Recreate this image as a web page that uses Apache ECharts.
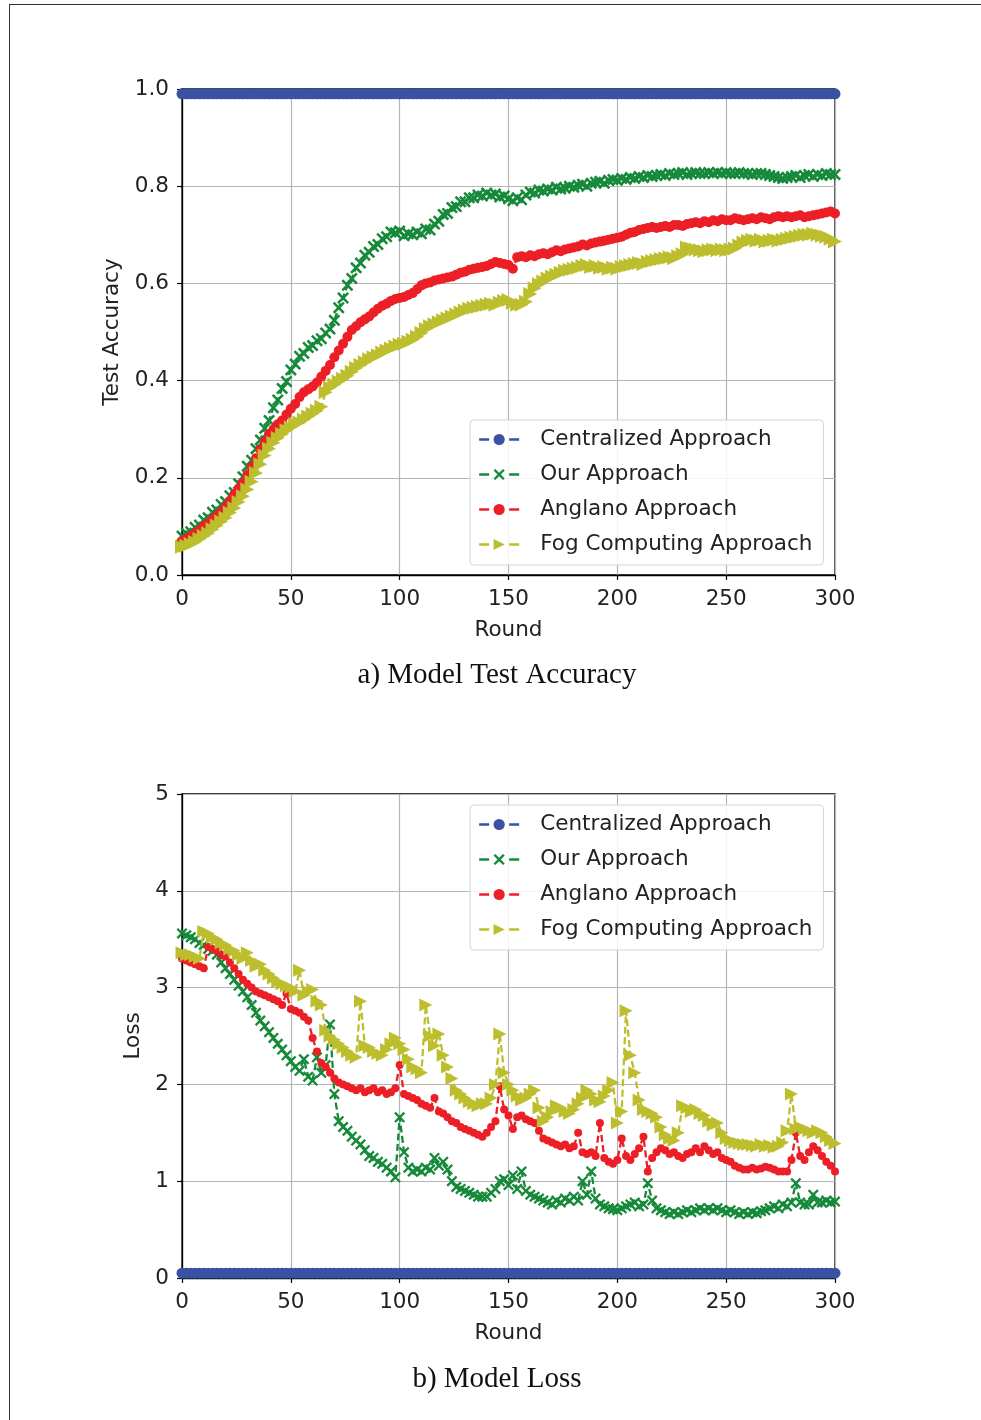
<!DOCTYPE html>
<html><head><meta charset="utf-8">
<script src="https://cdn.jsdelivr.net/npm/echarts@6/dist/echarts.min.js"></script>
<style>
html,body{margin:0;padding:0;background:#fff;}
#c{position:absolute;left:0;top:0;width:981px;height:1420px;}
#frame{position:absolute;left:9px;top:4px;right:0;bottom:0;border-top:1px solid #333;border-left:1px solid #333;pointer-events:none;}
</style></head>
<body>
<div id="c"></div>
<div id="frame"></div>
<script>
// ---------- DATA ----------
const rounds = [
0,2,4,6,8,10,12,14,16,18,
20,22,24,26,28,30,32,34,36,38,
40,42,44,46,48,50,52,54,56,58,
60,62,64,66,68,70,72,74,76,78,
80,82,84,86,88,90,92,94,96,98,
100,102,104,106,108,110,112,114,116,118,
120,122,124,126,128,130,132,134,136,138,
140,142,144,146,148,150,152,154,156,158,
160,162,164,166,168,170,172,174,176,178,
180,182,184,186,188,190,192,194,196,198,
200,202,204,206,208,210,212,214,216,218,
220,222,224,226,228,230,232,234,236,238,
240,242,244,246,248,250,252,254,256,258,
260,262,264,266,268,270,272,274,276,278,
280,282,284,286,288,290,292,294,296,298,
300];

const seriesNames = ['Centralized Approach','Our Approach','Anglano Approach','Fog Computing Approach'];

// Test accuracy
const accCentral = [
0.990,0.990,0.990,0.990,0.990,0.990,0.990,0.990,0.990,0.990,
0.990,0.990,0.990,0.990,0.990,0.990,0.990,0.990,0.990,0.990,
0.990,0.990,0.990,0.990,0.990,0.990,0.990,0.990,0.990,0.990,
0.990,0.990,0.990,0.990,0.990,0.990,0.990,0.990,0.990,0.990,
0.990,0.990,0.990,0.990,0.990,0.990,0.990,0.990,0.990,0.990,
0.990,0.990,0.990,0.990,0.990,0.990,0.990,0.990,0.990,0.990,
0.990,0.990,0.990,0.990,0.990,0.990,0.990,0.990,0.990,0.990,
0.990,0.990,0.990,0.990,0.990,0.990,0.990,0.990,0.990,0.990,
0.990,0.990,0.990,0.990,0.990,0.990,0.990,0.990,0.990,0.990,
0.990,0.990,0.990,0.990,0.990,0.990,0.990,0.990,0.990,0.990,
0.990,0.990,0.990,0.990,0.990,0.990,0.990,0.990,0.990,0.990,
0.990,0.990,0.990,0.990,0.990,0.990,0.990,0.990,0.990,0.990,
0.990,0.990,0.990,0.990,0.990,0.990,0.990,0.990,0.990,0.990,
0.990,0.990,0.990,0.990,0.990,0.990,0.990,0.990,0.990,0.990,
0.990,0.990,0.990,0.990,0.990,0.990,0.990,0.990,0.990,0.990,
0.990];
const accOur = [
0.080,0.086,0.089,0.098,0.103,0.113,0.118,0.129,0.134,0.145,
0.151,0.163,0.170,0.188,0.202,0.224,0.236,0.260,0.278,0.302,
0.318,0.344,0.360,0.384,0.398,0.422,0.434,0.450,0.456,0.468,
0.472,0.482,0.486,0.498,0.506,0.524,0.550,0.570,0.596,0.610,
0.632,0.642,0.658,0.664,0.676,0.680,0.692,0.696,0.706,0.704,
0.708,0.698,0.702,0.700,0.706,0.702,0.712,0.710,0.722,0.728,
0.742,0.744,0.756,0.758,0.768,0.768,0.776,0.776,0.782,0.780,
0.786,0.782,0.784,0.778,0.780,0.774,0.770,0.776,0.772,0.782,
0.788,0.786,0.792,0.790,0.794,0.792,0.798,0.794,0.796,0.800,
0.798,0.802,0.804,0.800,0.806,0.808,0.810,0.806,0.812,0.814,
0.812,0.816,0.814,0.818,0.816,0.820,0.818,0.822,0.820,0.822,
0.824,0.822,0.826,0.824,0.826,0.828,0.824,0.826,0.828,0.826,
0.826,0.828,0.826,0.828,0.826,0.828,0.826,0.826,0.828,0.826,
0.826,0.824,0.826,0.826,0.824,0.822,0.820,0.818,0.816,0.818,
0.820,0.822,0.818,0.822,0.824,0.820,0.824,0.822,0.826,0.824,
0.824];
const accAnglano = [
0.070,0.074,0.080,0.086,0.092,0.100,0.106,0.114,0.122,0.130,
0.140,0.152,0.166,0.178,0.190,0.206,0.222,0.240,0.258,0.274,
0.290,0.300,0.310,0.318,0.330,0.342,0.352,0.366,0.376,0.382,
0.388,0.396,0.408,0.420,0.432,0.448,0.462,0.476,0.490,0.504,
0.512,0.520,0.526,0.532,0.540,0.548,0.554,0.558,0.564,0.568,
0.570,0.572,0.576,0.580,0.588,0.596,0.600,0.602,0.606,0.608,
0.610,0.612,0.614,0.618,0.622,0.624,0.628,0.630,0.632,0.634,
0.636,0.640,0.644,0.642,0.640,0.638,0.630,0.654,0.656,0.654,
0.658,0.656,0.660,0.662,0.660,0.664,0.668,0.666,0.670,0.672,
0.674,0.676,0.680,0.678,0.682,0.684,0.686,0.688,0.690,0.692,
0.694,0.696,0.700,0.704,0.706,0.710,0.712,0.714,0.716,0.714,
0.716,0.718,0.716,0.720,0.720,0.718,0.722,0.724,0.726,0.724,
0.728,0.726,0.730,0.728,0.732,0.730,0.730,0.734,0.732,0.730,
0.732,0.734,0.732,0.736,0.734,0.732,0.736,0.738,0.736,0.738,
0.736,0.738,0.740,0.736,0.738,0.740,0.742,0.744,0.746,0.748,
0.744];
const accFog = [
0.058,0.060,0.064,0.068,0.074,0.080,0.086,0.094,0.102,0.110,
0.118,0.128,0.138,0.150,0.162,0.176,0.192,0.210,0.228,0.246,
0.260,0.272,0.282,0.290,0.298,0.304,0.310,0.314,0.320,0.326,
0.332,0.338,0.346,0.376,0.386,0.392,0.398,0.404,0.410,0.418,
0.426,0.432,0.438,0.444,0.448,0.452,0.458,0.462,0.466,0.470,
0.474,0.476,0.480,0.484,0.490,0.498,0.506,0.512,0.516,0.520,
0.524,0.528,0.532,0.536,0.540,0.544,0.548,0.550,0.552,0.554,
0.556,0.558,0.556,0.560,0.564,0.566,0.560,0.556,0.556,0.562,
0.578,0.590,0.598,0.604,0.610,0.614,0.618,0.622,0.626,0.628,
0.630,0.632,0.636,0.638,0.634,0.636,0.632,0.634,0.630,0.632,
0.630,0.634,0.636,0.638,0.640,0.642,0.640,0.644,0.646,0.648,
0.650,0.652,0.654,0.652,0.656,0.660,0.674,0.672,0.670,0.668,
0.666,0.668,0.670,0.668,0.670,0.668,0.670,0.672,0.678,0.684,
0.688,0.690,0.688,0.690,0.686,0.688,0.690,0.688,0.690,0.692,
0.694,0.696,0.698,0.700,0.700,0.702,0.700,0.698,0.696,0.692,
0.686];

// Loss
const lossCentral = [
0.05,0.05,0.05,0.05,0.05,0.05,0.05,0.05,0.05,0.05,
0.05,0.05,0.05,0.05,0.05,0.05,0.05,0.05,0.05,0.05,
0.05,0.05,0.05,0.05,0.05,0.05,0.05,0.05,0.05,0.05,
0.05,0.05,0.05,0.05,0.05,0.05,0.05,0.05,0.05,0.05,
0.05,0.05,0.05,0.05,0.05,0.05,0.05,0.05,0.05,0.05,
0.05,0.05,0.05,0.05,0.05,0.05,0.05,0.05,0.05,0.05,
0.05,0.05,0.05,0.05,0.05,0.05,0.05,0.05,0.05,0.05,
0.05,0.05,0.05,0.05,0.05,0.05,0.05,0.05,0.05,0.05,
0.05,0.05,0.05,0.05,0.05,0.05,0.05,0.05,0.05,0.05,
0.05,0.05,0.05,0.05,0.05,0.05,0.05,0.05,0.05,0.05,
0.05,0.05,0.05,0.05,0.05,0.05,0.05,0.05,0.05,0.05,
0.05,0.05,0.05,0.05,0.05,0.05,0.05,0.05,0.05,0.05,
0.05,0.05,0.05,0.05,0.05,0.05,0.05,0.05,0.05,0.05,
0.05,0.05,0.05,0.05,0.05,0.05,0.05,0.05,0.05,0.05,
0.05,0.05,0.05,0.05,0.05,0.05,0.05,0.05,0.05,0.05,
0.05];
const lossOur = [
3.56,3.54,3.52,3.50,3.46,3.44,3.40,3.38,3.34,3.26,
3.20,3.14,3.08,3.02,2.96,2.90,2.82,2.74,2.66,2.60,
2.54,2.48,2.42,2.36,2.30,2.24,2.18,2.14,2.26,2.08,
2.04,2.28,2.12,2.20,2.62,1.90,1.62,1.56,1.52,1.46,
1.42,1.38,1.32,1.26,1.24,1.20,1.18,1.14,1.10,1.04,
1.66,1.30,1.14,1.10,1.12,1.10,1.14,1.12,1.24,1.16,
1.20,1.12,1.00,0.94,0.92,0.90,0.88,0.86,0.84,0.84,
0.84,0.88,0.92,1.00,1.02,0.96,1.06,0.92,1.10,0.90,
0.86,0.84,0.82,0.80,0.78,0.76,0.80,0.78,0.82,0.80,
0.84,0.80,1.00,0.86,1.10,0.82,0.76,0.74,0.72,0.71,
0.70,0.72,0.74,0.76,0.78,0.74,0.76,0.98,0.80,0.72,
0.70,0.68,0.66,0.68,0.66,0.68,0.70,0.68,0.70,0.72,
0.70,0.72,0.70,0.72,0.70,0.68,0.70,0.68,0.66,0.68,
0.66,0.68,0.67,0.69,0.70,0.72,0.74,0.72,0.76,0.74,
0.78,0.98,0.78,0.76,0.76,0.86,0.78,0.78,0.80,0.78,
0.79];
const lossAnglano = [
3.30,3.28,3.26,3.24,3.22,3.20,3.42,3.40,3.38,3.34,
3.32,3.26,3.20,3.14,3.08,3.04,3.00,2.96,2.94,2.92,
2.90,2.88,2.86,2.82,2.94,2.78,2.76,2.74,2.70,2.66,
2.48,2.34,2.22,2.18,2.12,2.06,2.02,2.00,1.98,1.96,
1.94,1.96,1.92,1.94,1.96,1.92,1.94,1.90,1.92,1.96,
2.20,1.90,1.88,1.86,1.84,1.80,1.78,1.76,1.86,1.72,
1.70,1.66,1.62,1.60,1.56,1.54,1.52,1.50,1.48,1.46,
1.50,1.56,1.62,1.98,1.74,1.68,1.54,1.66,1.68,1.64,
1.62,1.60,1.52,1.44,1.42,1.40,1.38,1.36,1.38,1.34,
1.36,1.50,1.30,1.28,1.30,1.26,1.60,1.24,1.20,1.18,
1.22,1.44,1.26,1.22,1.28,1.34,1.46,1.10,1.24,1.30,
1.34,1.32,1.28,1.30,1.26,1.24,1.28,1.30,1.34,1.30,
1.36,1.32,1.28,1.30,1.24,1.22,1.20,1.16,1.14,1.12,
1.12,1.14,1.12,1.13,1.15,1.14,1.12,1.10,1.10,1.10,
1.22,1.50,1.26,1.22,1.30,1.36,1.32,1.26,1.20,1.16,
1.10];
const lossFog = [
3.36,3.34,3.34,3.32,3.30,3.58,3.56,3.52,3.50,3.46,
3.44,3.40,3.38,3.34,3.30,3.36,3.28,3.22,3.24,3.18,
3.14,3.10,3.06,3.04,3.02,3.00,2.96,3.18,2.92,2.96,
2.98,2.86,2.82,2.56,2.50,2.46,2.42,2.38,2.34,2.30,
2.28,2.86,2.40,2.38,2.34,2.32,2.30,2.36,2.42,2.48,
2.42,2.36,2.26,2.18,2.16,2.12,2.82,2.50,2.40,2.52,
2.30,2.18,2.06,1.94,1.90,1.86,1.82,1.80,1.78,1.80,
1.80,1.86,2.00,2.52,2.12,2.00,1.94,1.88,1.84,1.86,
1.90,1.94,1.76,1.62,1.66,1.72,1.78,1.76,1.72,1.70,
1.74,1.80,1.86,1.94,1.90,1.84,1.82,1.88,1.94,2.02,
1.60,1.72,2.76,2.30,2.12,1.84,1.74,1.72,1.70,1.66,
1.56,1.48,1.44,1.42,1.50,1.78,1.76,1.72,1.74,1.70,
1.68,1.62,1.58,1.60,1.50,1.44,1.42,1.40,1.39,1.38,
1.38,1.37,1.36,1.38,1.36,1.37,1.35,1.36,1.40,1.52,
1.90,1.54,1.56,1.54,1.52,1.50,1.52,1.50,1.46,1.42,
1.39];

const xTicks = [0,50,100,150,200,250,300];
const accTicks = [0.0,0.2,0.4,0.6,0.8,1.0];
const lossTicks = [0,1,2,3,4,5];

// ---------- STYLE ----------
const FONT = 'DejaVu Sans';
const FS = 21.5;
const TXT = '#222';
const colors = ['#3a52a4','#168a3a','#ec1f26','#bdbe2d'];
const X_PATH = 'path://M3,0 L10,7 L17,0 L20,3 L13,10 L20,17 L17,20 L10,13 L3,20 L0,17 L7,10 L0,3 Z';
const TRI_PATH = 'path://M0,0 L20,10 L0,20 Z';
const symbols = ['circle', X_PATH, 'circle', TRI_PATH];
const sizesAcc = [11, 12, 10, 14];
const sizesLoss = [11, 11, 8, 13];

function pairs(ys){ return rounds.map((r,i)=>[r, ys[i]]); }

function mkX(gi){
  return {type:'value', gridIndex:gi, min:xTicks[0], max:xTicks[xTicks.length-1], interval:xTicks[1]-xTicks[0],
    name:'Round', nameLocation:'middle', nameGap:44,
    nameTextStyle:{fontFamily:FONT,fontSize:FS,color:TXT},
    axisLine:{show:true,onZero:false,lineStyle:{color:'#000',width:1.3}},
    axisTick:{show:true,length:5,lineStyle:{color:'#000',width:1.2}},
    axisLabel:{fontFamily:FONT,fontSize:FS,color:TXT,margin:13},
    splitLine:{show:true,lineStyle:{color:'#b5b5b5',width:1.2}}};
}
function mkY(gi, ticks, name, gap, fmt){
  return {type:'value', gridIndex:gi, min:ticks[0], max:ticks[ticks.length-1], interval:ticks[1]-ticks[0],
    name:name, nameLocation:'middle', nameGap:gap,
    nameTextStyle:{fontFamily:FONT,fontSize:FS,color:TXT},
    axisLine:{show:true,onZero:false,lineStyle:{color:'#000',width:1.3}},
    axisTick:{show:true,length:5,lineStyle:{color:'#000',width:1.2}},
    axisLabel:{fontFamily:FONT,fontSize:FS,color:TXT,margin:13,formatter:fmt},
    splitLine:{show:true,lineStyle:{color:'#b5b5b5',width:1.2}}};
}
function mkSeries(gi, arrays, sizes){
  return arrays.map((arr,k)=>({
    type:'line', name:seriesNames[k], xAxisIndex:gi, yAxisIndex:gi,
    data:pairs(arr), symbol:symbols[k], symbolSize:sizes[k], showSymbol:true,
    lineStyle:{color:colors[k], width:2.3, type:[7,3.5]},
    itemStyle:{color:colors[k]}, animation:false, silent:true, clip:true, z:2+k*0.01
  }));
}
function mkLegend(top){
  return {orient:'vertical', left:470, top:top, itemWidth:40, itemHeight:14, itemGap:12,
    padding:[8,11,9,8], backgroundColor:'rgba(255,255,255,0.85)', borderColor:'#d4d4d4', borderWidth:1, borderRadius:4,
    lineStyle:{type:[10,20], width:2.3},
    textStyle:{fontFamily:FONT,fontSize:FS,color:TXT,lineHeight:23,padding:[0,0,0,16]},
    selectedMode:false, data:seriesNames};
}

const chart = echarts.init(document.getElementById('c'), null, {renderer:'canvas', width:981, height:1420});
chart.setOption({
  backgroundColor:'#fff',
  animation:false,
  grid:[
    {left:182, top:89, width:653, height:486, show:true, borderColor:'#000', borderWidth:1.3, backgroundColor:'transparent'},
    {left:182, top:794, width:653, height:484, show:true, borderColor:'#000', borderWidth:1.3, backgroundColor:'transparent'}
  ],
  xAxis:[mkX(0), mkX(1)],
  yAxis:[mkY(0, accTicks, 'Test Accuracy', 56, v=>v.toFixed(1)), mkY(1, lossTicks, 'Loss', 34, v=>String(v))],
  legend:[mkLegend(420), mkLegend(805)],
  series:[].concat(mkSeries(0,[accCentral,accOur,accAnglano,accFog], sizesAcc), mkSeries(1,[lossCentral,lossOur,lossAnglano,lossFog], sizesLoss)),
  graphic:[
    {type:'text', x:497, y:675, style:{text:'a) Model Test Accuracy', font:'29px "Liberation Serif"', fill:'#111', align:'center', verticalAlign:'middle'}},
    {type:'text', x:497, y:1379, style:{text:'b) Model Loss', font:'29px "Liberation Serif"', fill:'#111', align:'center', verticalAlign:'middle'}}
  ]
});
</script>
</body></html>
